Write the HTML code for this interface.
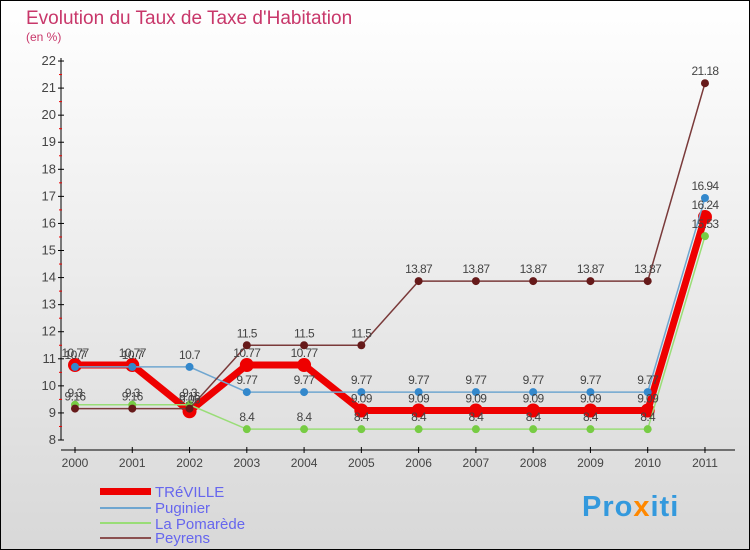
<!DOCTYPE html>
<html><head><meta charset="utf-8"><style>
body{margin:0}
svg{display:block;font-family:"Liberation Sans",sans-serif}
</style></head><body>
<svg id="c" width="750" height="550" xmlns="http://www.w3.org/2000/svg">
<defs><linearGradient id="bg" x1="0" y1="0" x2="0" y2="1"><stop offset="0" stop-color="#ffffff"/><stop offset="1" stop-color="#d8d8d8"/></linearGradient></defs>
<rect x="0.5" y="0.5" width="749" height="549" fill="url(#bg)" stroke="#000"/>
<text x="26" y="24" font-size="19" fill="#c8376a">Evolution du Taux de Taxe d'Habitation</text>
<text x="26" y="41" font-size="12" fill="#c8376a">(en %)</text>
<g id="axes"></g><g id="series"></g><g id="labels"></g>
<g>
<rect x="100" y="488" width="51" height="7" fill="#ee0000"/>
<text x="155" y="497" font-size="15" fill="#6666ee">TRéVILLE</text>
<line x1="100" y1="508" x2="151" y2="508" stroke="#6fa6d0" stroke-width="2"/>
<text x="155" y="513" font-size="15" fill="#6666ee">Puginier</text>
<line x1="100" y1="523" x2="151" y2="523" stroke="#99dd77" stroke-width="2"/>
<text x="155" y="529" font-size="15" fill="#6666ee">La Pomarède</text>
<line x1="100" y1="538" x2="151" y2="538" stroke="#8b5050" stroke-width="2"/>
<text x="155" y="543" font-size="15" fill="#6666ee">Peyrens</text>
</g>
<text x="582" y="516" font-size="29" font-weight="bold" fill="#3399dd" letter-spacing="1">Pro<tspan fill="#ff8800">x</tspan>iti</text>
</svg>
<script>
const years=["2000","2001","2002","2003","2004","2005","2006","2007","2008","2009","2010","2011"];
const yTicks=[8,9,10,11,12,13,14,15,16,17,18,19,20,21,22];
const treville=[10.77,10.77,9.06,10.77,10.77,9.09,9.09,9.09,9.09,9.09,9.09,16.24];
const puginier=[10.7,10.7,10.7,9.77,9.77,9.77,9.77,9.77,9.77,9.77,9.77,16.94];
const pomarede=[9.3,9.3,9.3,8.4,8.4,8.4,8.4,8.4,8.4,8.4,8.4,15.53];
const peyrens=[9.16,9.16,9.16,11.5,11.5,11.5,13.87,13.87,13.87,13.87,13.87,21.18];
const NS="http://www.w3.org/2000/svg";
const X=i=>75+i*57.27;
const Y=v=>440-(v-8)*27.07;
function mk(p,t,a){const e=document.createElementNS(NS,t);for(const k in a)e.setAttribute(k,a[k]);p.appendChild(e);return e;}
const ax=document.getElementById('axes');
let l=mk(ax,'line',{x1:61,y1:58,x2:61,y2:440,stroke:'#000'});


l=mk(ax,'line',{x1:61,y1:450,x2:735,y2:450,stroke:'#000'});


yTicks.forEach((v,i)=>{
 mk(ax,'line',{x1:58,y1:Y(v),x2:64,y2:Y(v),stroke:'#000'});
 if(i<yTicks.length-1) mk(ax,'line',{x1:59,y1:Y(v+0.5),x2:62,y2:Y(v+0.5),stroke:'#e00'});
 const t=mk(ax,'text',{x:56,y:Y(v)+4,'font-size':13,fill:'#444','text-anchor':'end'});
 t.textContent=v;
 
 
});
years.forEach((y,i)=>{
 mk(ax,'line',{x1:X(i),y1:447,x2:X(i),y2:453,stroke:'#000'});
 const t=mk(ax,'text',{x:X(i),y:467,'font-size':12,fill:'#444','text-anchor':'middle'});
 t.textContent=y;
 
 
});
const S=document.getElementById('series'),L=document.getElementById('labels');
const defs=[[treville,'#ee0000',7,7,'treville'],[puginier,'#6fa6d0',1.5,4,'puginier'],[pomarede,'#99dd77',1.5,4,'la-pomarede'],[peyrens,'#7a3a3a',1.5,4,'peyrens']];
const dot={treville:'#ee0000',puginier:'#3388cc','la-pomarede':'#77cc44',peyrens:'#661a1a'};
defs.forEach(([d,c,w,r,n])=>{
 const p=mk(S,'polyline',{points:d.map((v,i)=>X(i)+','+Y(v)).join(' '),fill:'none',stroke:c,'stroke-width':w});
 
 
 d.forEach((v,i)=>{
  const ci=mk(S,'circle',{cx:X(i),cy:Y(v),r:r,fill:dot[n]});
  
  
  const t=mk(L,'text',{x:X(i),y:Y(v)-8,'font-size':12,fill:'#444','text-anchor':'middle','letter-spacing':'-0.6'});
  t.textContent=v;
  
  
 });
});
</script>
</body></html>
